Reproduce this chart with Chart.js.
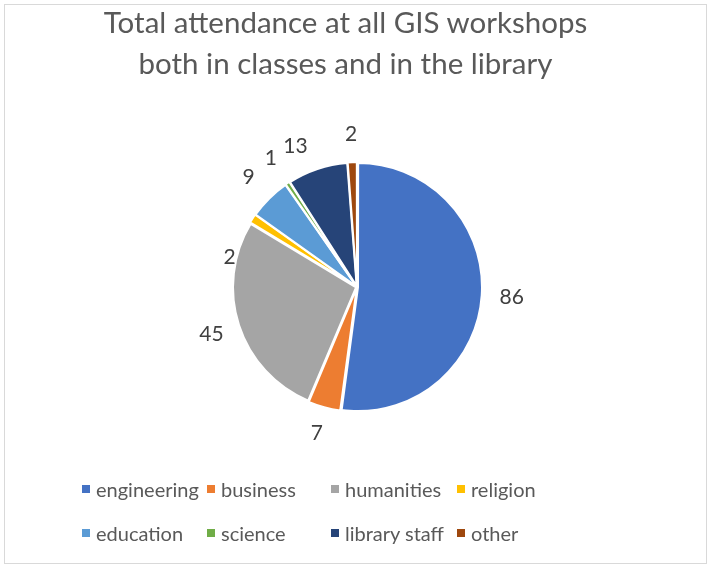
<!DOCTYPE html>
<html>
<head>
<meta charset="utf-8">
<script src="https://cdn.jsdelivr.net/npm/chart.js@4"></script>
<style>
  html,body{margin:0;padding:0;background:#fff;}
  #wrap{position:relative;width:713px;height:569px;overflow:hidden;font-family:Lato,"Open Sans",sans-serif;}
  #frame{position:absolute;left:4px;top:4px;width:703px;height:560px;border:1px solid #d9d9d9;box-sizing:border-box;}
  #chart{position:absolute;left:0;top:0;}
  #title{position:absolute;left:0;width:691px;top:1px;text-align:center;color:#595959;font-size:29.5px;line-height:41px;}
  #legend{position:absolute;left:82px;top:467px;display:grid;grid-template-columns:125px 124px 126px auto;grid-auto-rows:44px;color:#595959;font-size:20px;}
  #legend .it{display:flex;align-items:center;white-space:nowrap;}
  #legend .sw{width:8px;height:8px;margin-right:6px;flex:none;}
</style>
</head>
<body>
<div id="wrap">
  <div id="frame"></div>
  <canvas id="chart" width="713" height="569"></canvas>
  <div id="title">Total attendance at all GIS workshops<br>both in classes and in the library</div>
  <div id="legend"></div>
</div>
<script>
/* 数据 */
const labels = ["engineering","business","humanities","religion","education","science","library staff","other"];
const values = [86, 7, 45, 2, 9, 1, 13, 2];
const colors = ["#4472c4","#ed7d31","#a5a5a5","#ffc000","#5b9bd5","#70ad47","#264478","#9e480e"];

// label placement tweaks (deg, px) — Excel "best fit" moves a couple of them
const labelNudge = [0, 0, 0, -20, 0, 0, -5, 0];
const labelDist  = [155, 152, 153, 131, 154, 155, 154, 153];

const dataLabels = {
  id:"dataLabels",
  afterDatasetsDraw(chart){
    const {ctx} = chart;
    const meta = chart.getDatasetMeta(0);
    ctx.save();
    ctx.font = "21px Lato";
    ctx.fillStyle = "#404040";
    ctx.textAlign = "center";
    ctx.textBaseline = "middle";
    meta.data.forEach((arc,i)=>{
      const mid = (arc.startAngle + arc.endAngle)/2 + labelNudge[i]*Math.PI/180;
      const x = arc.x + Math.cos(mid)*labelDist[i];
      const y = arc.y + Math.sin(mid)*labelDist[i];
      ctx.fillText(String(values[i]), x, y);
    });
    ctx.restore();
  }
};

new Chart(document.getElementById("chart"),{
  type:"pie",
  data:{ labels, datasets:[{
    data:values, backgroundColor:colors,
    borderColor:"#fff", borderWidth:2, offset:4, radius:123,
  }]},
  options:{
    responsive:false, animation:false,
    layout:{ padding:{left:1, right:0, top:5, bottom:0} },
    plugins:{ legend:{display:false}, title:{display:false}, tooltip:{enabled:false} },
  },
  plugins:[dataLabels],
});

// 图例
const lg = document.getElementById("legend");
labels.forEach((l,i)=>{
  const d = document.createElement("div");
  d.className = "it";
  d.innerHTML = `<span class="sw" style="background:${colors[i]}"></span><span>${l}</span>`;
  lg.appendChild(d);
});
</script>
</body>
</html>
